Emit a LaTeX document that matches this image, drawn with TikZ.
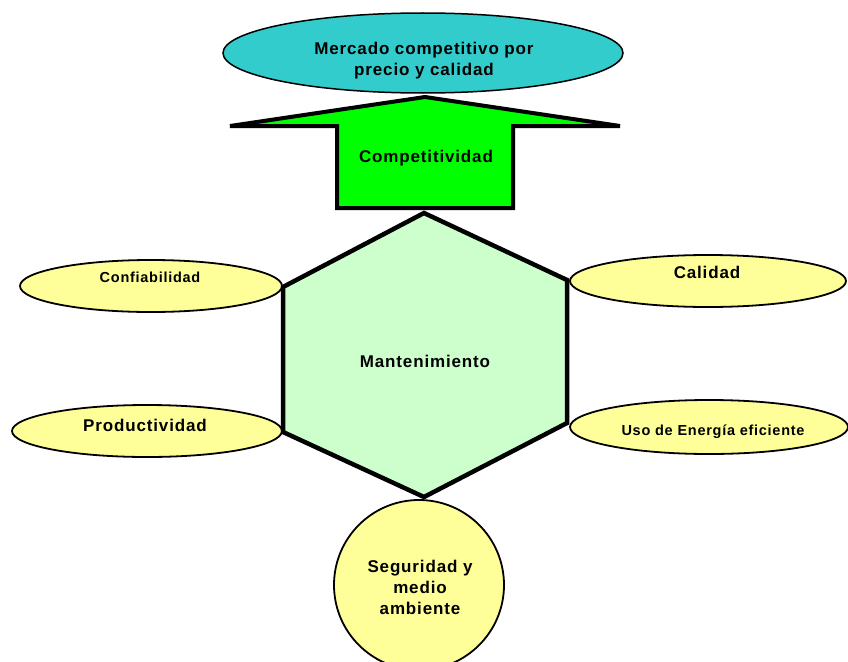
\documentclass[tikz,border=0pt]{standalone}
\usepackage{fontspec}
\setmainfont{Liberation Sans}[LetterSpace=5]

\definecolor{mercadoteal}{HTML}{33CCCC}
\definecolor{compgreen}{HTML}{00FF00}
\definecolor{mantgreen}{HTML}{CCFFCC}
\definecolor{ovalyellow}{HTML}{FFFF99}

\tikzset{
    oval/.style={draw, line width=1.8pt, fill=ovalyellow},
    biglabel/.style={font=\bfseries\fontsize{17}{21}\selectfont, align=center, inner sep=0pt},
    smalllabel/.style={font=\bfseries\fontsize{14.5}{17}\selectfont, inner sep=0pt}
}

\begin{document}
\begin{tikzpicture}[x=1pt,y=-1pt]

\useasboundingbox (0,0) rectangle (848,661);

\draw[line width=1.5pt, fill=mercadoteal] (423, 53) ellipse [x radius=200, y radius=40];
\node[biglabel] (mercado) at (424, 61) {Mercado competitivo por\\precio y calidad};

\draw[line width=4pt, fill=compgreen]
    (425, 97) -- (620, 126) -- (513, 126) -- (513, 208)
    -- (337, 208) -- (337, 126) -- (230, 126) -- cycle;
\node[biglabel] (comp) at (426, 158) {Competitividad};

\draw[oval] (151, 286) ellipse [x radius=131, y radius=26];
\draw[oval] (147, 431) ellipse [x radius=135, y radius=26];
\draw[oval] (708, 281) ellipse [x radius=138, y radius=26];
\draw[oval] (709, 427) ellipse [x radius=139, y radius=27];
\draw[oval] (419, 585) circle (85);

\draw[line width=4.5pt, fill=mantgreen]
    (424, 213) -- (567, 280) -- (567, 423) -- (424, 497)
    -- (283, 432) -- (283, 287) -- cycle;
\node[biglabel] (mant) at (425, 361) {Mantenimiento};

\node[smalllabel] (conf) at (150, 277) {Confiabilidad};
\node[biglabel] (prod) at (145, 425) {Productividad};
\node[biglabel] (cal) at (707, 272) {Calidad};
\node[smalllabel] (uso) at (713, 432) {Uso de Energía eficiente};
\node[biglabel] (seg) at (420, 587) {Seguridad y\\medio\\ambiente};

\end{tikzpicture}
\end{document}
